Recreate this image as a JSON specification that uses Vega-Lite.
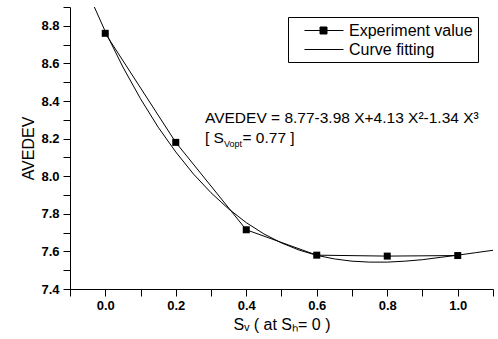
{
  "$schema": "https://vega.github.io/schema/vega-lite/v6.json",
  "width": 423,
  "height": 282,
  "autosize": {"type": "none"},
  "padding": {"left": 70, "top": 7, "right": 5, "bottom": 50},
  "background": "white",
  "config": {
    "font": "Liberation Sans",
    "view": {"stroke": null},
    "axis": {"grid": false, "domainColor": "black", "tickColor": "black", "labelColor": "black", "titleColor": "black", "domainWidth": 1, "tickWidth": 1, "labelOverlap": false, "labelFlush": false}
  },
  "datasets": {
    "all": [
      {"series": "Experiment value", "x": 0.0, "y": 8.76},
      {"series": "Experiment value", "x": 0.2, "y": 8.18},
      {"series": "Experiment value", "x": 0.4, "y": 7.715},
      {"series": "Experiment value", "x": 0.6, "y": 7.58},
      {"series": "Experiment value", "x": 0.8, "y": 7.575},
      {"series": "Experiment value", "x": 1.0, "y": 7.578},
      {"series": "Curve fitting", "x": -0.05, "y": 8.98},
      {"series": "Curve fitting", "x": 0.0, "y": 8.77},
      {"series": "Curve fitting", "x": 0.05, "y": 8.581},
      {"series": "Curve fitting", "x": 0.1, "y": 8.412},
      {"series": "Curve fitting", "x": 0.15, "y": 8.261},
      {"series": "Curve fitting", "x": 0.2, "y": 8.129},
      {"series": "Curve fitting", "x": 0.25, "y": 8.012},
      {"series": "Curve fitting", "x": 0.3, "y": 7.912},
      {"series": "Curve fitting", "x": 0.35, "y": 7.826},
      {"series": "Curve fitting", "x": 0.4, "y": 7.753},
      {"series": "Curve fitting", "x": 0.45, "y": 7.693},
      {"series": "Curve fitting", "x": 0.5, "y": 7.645},
      {"series": "Curve fitting", "x": 0.55, "y": 7.607},
      {"series": "Curve fitting", "x": 0.6, "y": 7.579},
      {"series": "Curve fitting", "x": 0.65, "y": 7.56},
      {"series": "Curve fitting", "x": 0.7, "y": 7.548},
      {"series": "Curve fitting", "x": 0.75, "y": 7.543},
      {"series": "Curve fitting", "x": 0.8, "y": 7.543},
      {"series": "Curve fitting", "x": 0.85, "y": 7.548},
      {"series": "Curve fitting", "x": 0.9, "y": 7.556},
      {"series": "Curve fitting", "x": 0.95, "y": 7.568},
      {"series": "Curve fitting", "x": 1.0, "y": 7.58},
      {"series": "Curve fitting", "x": 1.05, "y": 7.593},
      {"series": "Curve fitting", "x": 1.1, "y": 7.606}
    ]
  },
  "encoding": {
    "x": {"type": "quantitative", "scale": {"domain": [-0.1, 1.1], "nice": false, "zero": false},
      "axis": {"orient": "bottom", "values": [-0.1, 0, 0.1, 0.2, 0.3, 0.4, 0.5, 0.6, 0.7, 0.8, 0.9, 1.0, 1.1],
        "labelExpr": "(round(datum.value * 10) % 2) == 0 ? format(datum.value, '.1f') : ''",
        "tickSize": 7,
        "encode": {"ticks": {"update": {"y2": {"signal": "(round(datum.value * 10) % 2) == 0 ? 7 : 4"}}}},
        "labelPadding": 3, "labelFontSize": 13, "labelFontWeight": "bold",
        "title": "Sᵥ ( at  Sₕ= 0 )", "titleFontSize": 16, "titleFontWeight": "normal", "titlePadding": 4}},
    "y": {"type": "quantitative", "scale": {"domain": [7.4, 8.9], "nice": false, "zero": false},
      "axis": {"orient": "left", "values": [7.4, 7.5, 7.6, 7.7, 7.8, 7.9, 8.0, 8.1, 8.2, 8.3, 8.4, 8.5, 8.6, 8.7, 8.8, 8.9],
        "labelExpr": "(round(datum.value * 10) % 2) == 0 ? format(datum.value, '.1f') : ''",
        "tickSize": 7,
        "encode": {"ticks": {"update": {"x2": {"signal": "(round(datum.value * 10) % 2) == 0 ? -7 : -4"}}}},
        "labelPadding": 4, "labelFontSize": 13, "labelFontWeight": "bold",
        "title": "AVEDEV", "titleFontSize": 16, "titleFontWeight": "normal", "titlePadding": 4}}
  },
  "layer": [
    {
      "data": {"name": "all"},
      "mark": {"type": "line", "clip": true, "strokeWidth": 1},
      "encoding": {
        "x": {"field": "x"},
        "y": {"field": "y"},
        "color": {"field": "series", "type": "nominal",
          "scale": {"domain": ["Experiment value", "Curve fitting"], "range": ["black", "black"]},
          "legend": {"orient": "none", "legendX": 218, "legendY": 10, "title": null, "padding": 4.5,
            "strokeColor": "black", "fillColor": "white", "symbolSize": 289, "labelOffset": 38.5,
            "labelFontSize": 16, "labelColor": "black", "rowPadding": 2, "labelExpr": "datum.label + ' '",
            "encode": {"symbols": {"update": {
              "shape": {"signal": "datum.value === 'Experiment value' ? 'M0.35,0H4.94M2.18,-0.41H3.0V0.41H2.18Z' : 'M0.35,0H4.94'"},
              "fill": {"value": "black"}, "stroke": {"value": "black"}, "strokeWidth": {"value": 1}, "opacity": {"value": 1}}}}}}
      }
    },
    {
      "data": {"name": "all"},
      "transform": [{"filter": "datum.series === 'Experiment value'"}],
      "mark": {"type": "square", "size": 49, "filled": true, "opacity": 1, "color": "black"},
      "encoding": {
        "x": {"field": "x"},
        "y": {"field": "y"}
      }
    },
    {
      "data": {"values": [{}]},
      "mark": {"type": "text", "align": "left", "baseline": "alphabetic", "fontSize": 15.5, "color": "black"},
      "encoding": {
        "x": {"datum": 0.283},
        "y": {"datum": 8.285},
        "text": {"value": "AVEDEV = 8.77-3.98 X+4.13 X²-1.34 X³"}
      }
    },
    {
      "data": {"values": [{}]},
      "mark": {"type": "text", "align": "left", "baseline": "alphabetic", "fontSize": 15.5, "color": "black"},
      "encoding": {
        "x": {"datum": 0.283},
        "y": {"datum": 8.179},
        "text": {"value": "[ S"}
      }
    },
    {
      "data": {"values": [{}]},
      "mark": {"type": "text", "align": "left", "baseline": "alphabetic", "fontSize": 9, "dx": 19, "dy": 4, "color": "black"},
      "encoding": {
        "x": {"datum": 0.283},
        "y": {"datum": 8.179},
        "text": {"value": "Vopt"}
      }
    },
    {
      "data": {"values": [{}]},
      "mark": {"type": "text", "align": "left", "baseline": "alphabetic", "fontSize": 15.5, "dx": 37.5, "color": "black"},
      "encoding": {
        "x": {"datum": 0.283},
        "y": {"datum": 8.179},
        "text": {"value": " = 0.77 ]"}
      }
    }
  ]
}
